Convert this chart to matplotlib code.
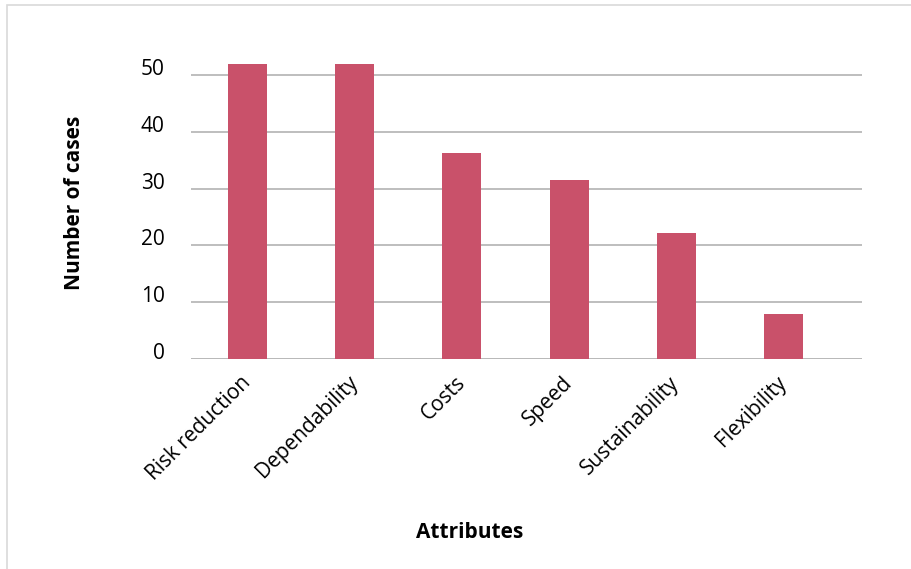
import matplotlib.pyplot as plt
from matplotlib.patches import Rectangle

attributes = ['Risk reduction', 'Dependability', 'Costs', 'Speed', 'Sustainability', 'Flexibility']
cases = [52, 52, 36.3, 31.5, 22.2, 7.9]
yticks = [0, 10, 20, 30, 40, 50]

plt.rcParams['font.family'] = ['Open Sans', 'DejaVu Sans']

fig = plt.figure(figsize=(9.11, 5.69), dpi=100)
ax = fig.add_axes([0.2097, 0.3696, 0.7363, 0.548])

x = list(range(len(attributes)))
ax.bar(x, cases, width=0.364, color='#C9516A', zorder=3)

ax.set_xlim(-0.527, 5.73)
ax.set_ylim(0, 55)
ax.set_yticks(yticks)
ax.grid(axis='y', color='#B3B3B3', linewidth=1.2, zorder=0)
ax.axhline(0, color='#D3D3D3', linewidth=2, zorder=1)
for s in ax.spines.values():
    s.set_visible(False)

ax.set_xticks(x)
ax.set_xticklabels(attributes, rotation=45, ha='right', va='center',
                   rotation_mode='anchor', fontsize=15)
ax.tick_params(axis='x', length=0, pad=15)
ax.tick_params(axis='y', length=0, pad=19, labelsize=15)
for lab in ax.get_yticklabels():
    lab.set_verticalalignment('baseline')

ax.set_ylabel('Number of cases', fontsize=15, fontweight='bold', labelpad=40)
fig.text(0.516, 0.065, 'Attributes', fontsize=15, fontweight='bold', ha='center', va='center')

# light frame round the chart area
fig.patches.append(Rectangle((7 / 911, -0.05), 1.0, 1 - 5 / 569 + 0.05, transform=fig.transFigure,
                             fill=False, edgecolor='#D9D9D9', linewidth=1.2))

fig.savefig('out.png', dpi=100)
